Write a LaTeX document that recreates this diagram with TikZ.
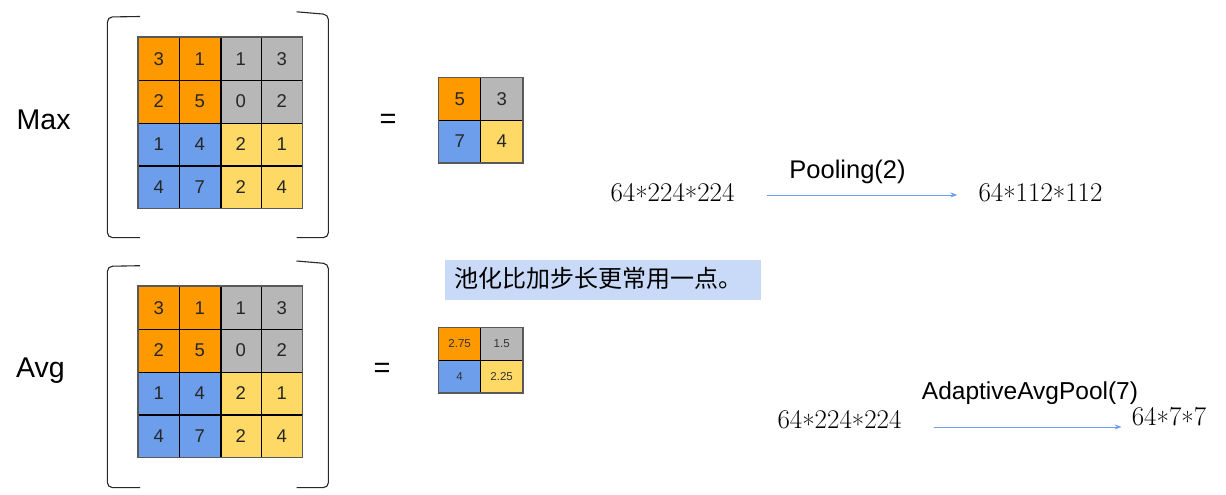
\documentclass[tikz,border=0pt]{standalone}
\usepackage{fontspec}
\newfontfamily\arial{Liberation Sans}
\newfontfamily\cjk{Noto Sans CJK SC}
\usetikzlibrary{arrows.meta}
\definecolor{cOrange}{HTML}{FF9900}
\definecolor{cGray}{HTML}{B7B7B7}
\definecolor{cBlue}{HTML}{6D9EEB}
\definecolor{cYellow}{HTML}{FFD966}
\definecolor{cNote}{HTML}{C9DAF8}
\definecolor{cArrow}{HTML}{6D9EEB}
\definecolor{cBorder}{HTML}{595959}
\colorlet{q11}{cOrange}
\colorlet{q12}{cGray}
\colorlet{q21}{cBlue}
\colorlet{q22}{cYellow}
\newcommand\mystar{\raisebox{-0.22em}{*}}
\tikzset{
  cell/.style={draw=black, line width=0.7pt, inner sep=0pt,
    font=\arial\fontsize{18.5}{20}\selectfont, text=black!85},
  smallcell/.style={draw=black, line width=0.7pt, inner sep=0pt,
    font=\arial\fontsize{11.5}{13}\selectfont, text=black!80},
  thickln/.style={draw=black, line width=1.8pt},
  outerln/.style={draw=cBorder, line width=1.3pt},
  brk/.style={draw=black!85, line width=1.1pt, rounded corners=5pt},
  lbl/.style={font=\arial\fontsize{28.5}{30}\selectfont, inner sep=0pt},
  eqs/.style={font=\arial\fontsize{29}{30}\selectfont, inner sep=0pt},
  dims/.style={font=\fontsize{27}{30}\selectfont, inner sep=0pt},
  oplbl/.style={font=\arial\fontsize{25.5}{28}\selectfont, inner sep=0pt},
  arr/.style={draw=cArrow, line width=0.8pt, -{Stealth[length=7pt,width=5pt]}},
  note/.style={fill=cNote, draw=none, inner sep=0pt}
}
\newcommand\bigmat[3]{%
  \foreach \r/\vals in {1/{3,1,1,3},2/{2,5,0,2},3/{1,4,2,1},4/{4,7,2,4}}{%
    \foreach \v [count=\c] in \vals {%
      \pgfmathtruncatemacro\qr{(\r+1)/2}%
      \pgfmathtruncatemacro\qc{(\c+1)/2}%
      \node[cell, fill=q\qr\qc, minimum width=41pt, minimum height=42.75pt,
        anchor=north west] (#1\r\c) at ({#2+(\c-1)*41},{#3+(\r-1)*42.75}) {\v};
    }%
  }%
  \draw[thickln] (#112.north east) -- (#142.south east);
  \draw[thickln] (#131.south west) -- (#134.south east);
  \draw[outerln] (#111.north west) rectangle (#144.south east);
}
\begin{document}
\begin{tikzpicture}[x=1pt,y=-1pt]
\useasboundingbox (0,0) rectangle (1226,495);

% ---------- Max ----------
\node[lbl, anchor=base west] (maxlbl) at (16.5,129.3) {Max};
\bigmat{t}{138}{37}
\draw[brk] (140,16.5) -- (107.4,17) -- (107.4,237.6) -- (140,237.6);
\draw[brk] (296.5,11.8) -- (328.4,14.5) -- (328.4,237.6) -- (296.5,237.6);
\node[eqs, anchor=base] (eq1) at (388,128) {=};

\node[cell, fill=cOrange, minimum width=42pt, minimum height=42.5pt, anchor=north west] (sa11) at (438.3,77.3) {5};
\node[cell, fill=cGray,   minimum width=42pt, minimum height=42.5pt, anchor=north west] (sa12) at (480.3,77.3) {3};
\node[cell, fill=cBlue,   minimum width=42pt, minimum height=42.5pt, anchor=north west] (sa21) at (438.3,119.8) {7};
\node[cell, fill=cYellow, minimum width=42pt, minimum height=42.5pt, anchor=north west] (sa22) at (480.3,119.8) {4};
\draw[outerln] (sa11.north west) rectangle (sa22.south east);

% ---------- Avg ----------
\node[lbl, anchor=base west] (avglbl) at (16,377.3) {Avg};
\bigmat{b}{138}{286}
\draw[brk] (140,265.7) -- (107.4,266.3) -- (107.4,487.6) -- (140,487.6);
\draw[brk] (296.5,261) -- (328.4,263.7) -- (328.4,487.6) -- (296.5,487.6);
\node[eqs, anchor=base] (eq2) at (382,377.7) {=};

\node[smallcell, fill=cOrange, minimum width=42pt, minimum height=32.5pt, anchor=north west] (sb11) at (438.3,327.3) {2.75};
\node[smallcell, fill=cGray,   minimum width=42pt, minimum height=32.5pt, anchor=north west] (sb12) at (480.3,327.3) {1.5};
\node[smallcell, fill=cBlue,   minimum width=42pt, minimum height=32.5pt, anchor=north west] (sb21) at (438.3,359.8) {4};
\node[smallcell, fill=cYellow, minimum width=42pt, minimum height=32.5pt, anchor=north west] (sb22) at (480.3,359.8) {2.25};
\draw[outerln] (sb11.north west) rectangle (sb22.south east);

% ---------- note ----------
\node[note, minimum width=316pt, minimum height=40pt, anchor=north west] (notebox) at (445,260) {};
\node[font=\cjk\fontsize{24}{26}\selectfont, inner sep=0pt, anchor=base west] (notetxt) at (454,287) {池化比加步长更常用一点。};

% ---------- Pooling(2) ----------
\node[dims, anchor=base] (a1) at (672.5,201) {64\mystar224\mystar224};
\node[dims, anchor=base] (c1) at (1040.5,201) {64\mystar112\mystar112};
\node[oplbl, anchor=base] (p1) at (847.5,178) {Pooling(2)};
\draw[arr, shorten <=32pt, shorten >=21pt] (a1.east) -- (c1.west);

% ---------- AdaptiveAvgPool(7) ----------
\node[dims, anchor=base] (a2) at (839.5,428.5) {64\mystar224\mystar224};
\node[dims, anchor=base] (c2) at (1169,425.5) {64\mystar7\mystar7};
\node[oplbl, font=\arial\fontsize{24.5}{27}\selectfont, anchor=base] (p2) at (1030,399.5) {AdaptiveAvgPool(7)};
\draw[arr, shorten <=32pt, shorten >=10pt] ([yshift=-4.5pt]a2.east) -- ([yshift=-4.5pt]a2.east -| c2.west);
\end{tikzpicture}
\end{document}
